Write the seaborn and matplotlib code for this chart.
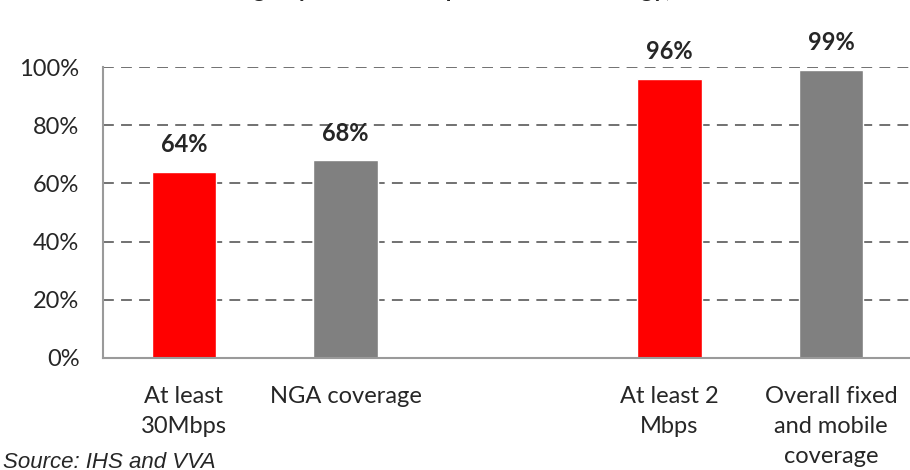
import numpy as np
import pandas as pd
import matplotlib
matplotlib.use("Agg")
import matplotlib.pyplot as plt
import seaborn as sns

# data (middle slot is an empty spacer)
categories = ["At least\n30Mbps", "NGA coverage", "", "At least 2\nMbps",
              "Overall fixed\nand mobile\ncoverage"]
coverage = [0.64, 0.68, np.nan, 0.96, 0.99]
bar_colors = ["#ff0000", "#808080", "#ffffff", "#ff0000", "#808080"]
y_ticks = [0, 0.2, 0.4, 0.6, 0.8, 1.0]
title = "Coverage by broadband speed and technology, 2013"
source = "Source: IHS and VVA"

sns.set_style("white")
plt.rcParams["font.family"] = ["Lato", "DejaVu Sans"]

df = pd.DataFrame({"cat": categories, "cov": coverage})

fig = plt.figure(figsize=(9.1, 4.7), dpi=100)
W, H = 910, 470
ax = fig.add_axes([103 / W, (H - 358) / H, (912 - 103) / W, (358 - 67) / H])

sns.barplot(data=df, x="cat", y="cov", hue="cat", order=categories,
            hue_order=categories, palette=bar_colors, width=0.4,
            legend=False, saturation=1, ax=ax)

ax.set_ylim(0, 1.0)
ax.set_xlim(-0.5, 4.5)
ax.set_yticks(y_ticks)
ax.set_yticklabels([f"{int(round(t * 100))}%" for t in y_ticks])
ax.set_xlabel("")
ax.set_ylabel("")

ax.yaxis.grid(True, linestyle=(0, (6, 4)), color="#666666", linewidth=1.3)
ax.set_axisbelow(True)
for side in ["top", "right"]:
    ax.spines[side].set_visible(False)
for side in ["left", "bottom"]:
    ax.spines[side].set_color("#9a9a9a")
    ax.spines[side].set_linewidth(1.5)

ax.tick_params(axis="y", length=0, pad=17, labelsize=17)
ax.tick_params(axis="x", length=0, pad=20, labelsize=17)
for lab in ax.get_xticklabels():
    lab.set_linespacing(1.55)

# value labels above the bars
for p in ax.patches:
    h = p.get_height()
    if h is None or np.isnan(h) or h == 0:
        continue
    ax.annotate(f"{h * 100:.0f}%", (p.get_x() + p.get_width() / 2, h),
                xytext=(0, 14), textcoords="offset points",
                ha="center", va="baseline", fontsize=17, fontweight="bold")

# title sits mostly above the visible area, as in the cropped reference
fig.text(0.5, 1.0 + 3 / H, title, ha="center", va="baseline",
         fontsize=17, fontweight="bold")
fig.text(3 / W, 2 / H, source, ha="left", va="baseline", fontsize=16,
         style="italic", family=["Liberation Sans", "DejaVu Sans"])

fig.savefig("out.png", dpi=100)
